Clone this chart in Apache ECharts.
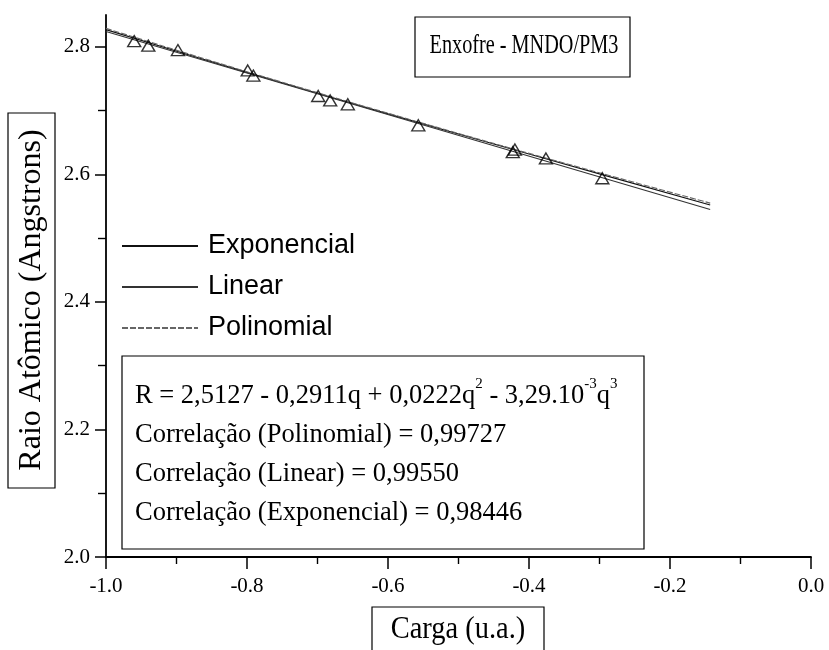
<!DOCTYPE html>
<html>
<head>
<meta charset="utf-8">
<script src="https://cdn.jsdelivr.net/npm/echarts@6/dist/echarts.min.js"></script>
<style>html,body{margin:0;padding:0;background:#fff;}#c{width:829px;height:650px;}</style>
</head>
<body>
<div id="c"></div>
<script>
// Data points (Carga, Raio)
const pointX = [-0.960, -0.940, -0.898, -0.799, -0.791, -0.699, -0.682, -0.657, -0.557, -0.423, -0.420, -0.376, -0.296];
const pointY = [2.809, 2.802, 2.795, 2.763, 2.755, 2.723, 2.716, 2.710, 2.677, 2.635, 2.639, 2.625, 2.594];
// Fit curves
const expX = [-1.0, -0.8, -0.6, -0.4, -0.143];
const expY = [2.827, 2.760, 2.695, 2.632, 2.552];
const linX = [-1.0, -0.143];
const linY = [2.824, 2.545];
const polX = [-1.0, -0.8, -0.6, -0.4, -0.143];
const polY = [2.829, 2.761, 2.696, 2.633, 2.555];
// Tick labels
const yMajor = [2.0, 2.2, 2.4, 2.6, 2.8];
const yMinor = [2.1, 2.3, 2.5, 2.7];
const seriesNames = ['Exponencial', 'Linear', 'Polinomial'];

const zip = (xs, ys) => xs.map((x, i) => [x, ys[i]]);
const serif = 'Liberation Serif';
const chart = echarts.init(document.getElementById('c'));
chart.setOption({
  animation: false,
  backgroundColor: '#fff',
  grid: {left: 106, right: 18, top: 15, bottom: 93},
  legend: {
    data: seriesNames,
    orient: 'vertical',
    left: 121, top: 231, padding: 0,
    itemWidth: 76, itemHeight: 14, itemGap: 11,
    itemStyle: {color: 'rgba(0,0,0,0)', borderWidth: 0},
    textStyle: {fontFamily: 'Liberation Sans', fontSize: 27, color: '#000', lineHeight: 30, padding: [0, 0, 0, 5]},
    selectedMode: false
  },
  xAxis: {
    type: 'value', min: -1, max: 0, interval: 0.2,
    axisLine: {onZero: false, lineStyle: {color: '#000', width: 1.8}},
    axisTick: {show: true, length: 12, lineStyle: {color: '#000', width: 1.5}},
    minorTick: {show: true, splitNumber: 2, length: 7, lineStyle: {color: '#000', width: 1.4}},
    splitLine: {show: false},
    axisLabel: {fontFamily: serif, fontSize: 21, color: '#000', margin: 19,
      formatter: v => v.toFixed(1)}
  },
  yAxis: [{
    type: 'value', min: 2.0, max: 2.85, interval: 0.2, position: 'left',
    axisLine: {show: true, onZero: false, lineStyle: {color: '#000', width: 1.8}},
    axisTick: {show: true, length: 11, customValues: yMajor, lineStyle: {color: '#000', width: 1.5}},
    splitLine: {show: false},
    axisLabel: {fontFamily: serif, fontSize: 21, color: '#000', margin: 16,
      customValues: yMajor, formatter: v => v.toFixed(1)}
  }, {
    type: 'value', min: 2.0, max: 2.85, position: 'left',
    axisLine: {show: false, onZero: false},
    axisTick: {show: true, length: 8, customValues: yMinor, lineStyle: {color: '#000', width: 1.4}},
    splitLine: {show: false},
    axisLabel: {show: false}
  }],
  series: [
    {name: 'Exponencial', type: 'line', data: zip(expX, expY), smooth: 0.3, symbol: 'none',
     itemStyle: {color: '#111'}, lineStyle: {color: '#111', width: 1.2}, z: 2},
    {name: 'Linear', type: 'line', data: zip(linX, linY), symbol: 'none',
     itemStyle: {color: '#333'}, lineStyle: {color: '#333', width: 1.1}, z: 2},
    {name: 'Polinomial', type: 'line', data: zip(polX, polY), smooth: 0.3, symbol: 'none',
     itemStyle: {color: '#666'}, lineStyle: {color: '#666', width: 1.1, type: [6, 2]}, z: 2},
    {name: 'Dados', type: 'scatter', data: zip(pointX, pointY), symbol: 'triangle', symbolSize: [13, 11],
     itemStyle: {color: 'rgba(0,0,0,0)', borderColor: '#000', borderWidth: 1.4}, z: 5}
  ],
  graphic: [
    {type: 'rect', shape: {x: 415, y: 17, width: 215, height: 60},
     style: {fill: '#fff', stroke: '#000', lineWidth: 1.2}, z: 10},
    {type: 'text', x: 524, y: 46, scaleX: 0.75, z: 11,
     style: {text: 'Enxofre - MNDO/PM3', font: '27px "Liberation Serif"', fill: '#000', align: 'center', verticalAlign: 'middle'}},
    {type: 'rect', shape: {x: 122, y: 356, width: 522, height: 193},
     style: {fill: '#fff', stroke: '#000', lineWidth: 1.2}, z: 10},
    {type: 'text', x: 135, y: 377, z: 11,
     style: {
       text: 'R = 2,5127 - 0,2911q + 0,0222q{s|2} - 3,29.10{s|-3}q{s|3}\nCorrelação (Polinomial) = 0,99727\nCorrelação (Linear) = 0,99550\nCorrelação (Exponencial) = 0,98446',
       font: '26.5px "Liberation Serif"', fill: '#000', lineHeight: 39, align: 'left', verticalAlign: 'top',
       rich: {s: {fontFamily: serif, fontSize: 15, fill: '#000', verticalAlign: 'top', lineHeight: 39, padding: [0, 0, 14, 0]}}
     }},
    {type: 'rect', shape: {x: 8, y: 113, width: 47, height: 375},
     style: {fill: '#fff', stroke: '#000', lineWidth: 1.2}, z: 10},
    {type: 'text', x: 32, y: 300, rotation: Math.PI / 2, z: 11,
     style: {text: 'Raio Atômico (Angstrons)', font: '32px "Liberation Serif"', fill: '#000', align: 'center', verticalAlign: 'middle'}},
    {type: 'rect', shape: {x: 372, y: 607, width: 172, height: 60},
     style: {fill: '#fff', stroke: '#000', lineWidth: 1.2}, z: 10},
    {type: 'text', x: 458, y: 630, scaleX: 0.89, z: 11,
     style: {text: 'Carga (u.a.)', font: '32px "Liberation Serif"', fill: '#000', align: 'center', verticalAlign: 'middle'}}
  ]
});
</script>
</body>
</html>
